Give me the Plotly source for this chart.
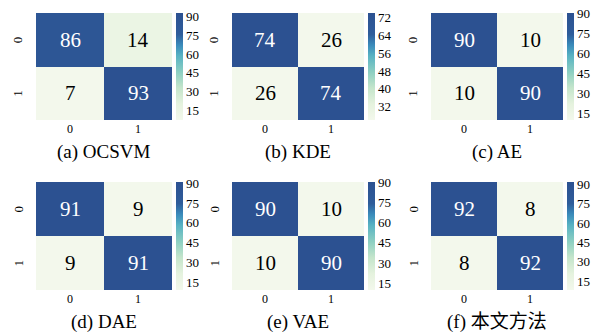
import plotly.graph_objects as go

# Confusion matrices (rows: true class, cols: predicted class)
titles = ["(a) OCSVM", "(b) KDE", "(c) AE", "(d) DAE", "(e) VAE", "(f) 本文方法"]
matrices = [
    [[86, 14], [7, 93]],
    [[74, 26], [26, 74]],
    [[90, 10], [10, 90]],
    [[91, 9], [9, 91]],
    [[90, 10], [10, 90]],
    [[92, 8], [8, 92]],
]
cbar_ticks = [
    [15, 30, 45, 60, 75, 90],
    [32, 40, 48, 56, 64, 72],
    [15, 30, 45, 60, 75, 90],
    [15, 30, 45, 60, 75, 90],
    [15, 30, 45, 60, 75, 90],
    [15, 30, 45, 60, 75, 90],
]
class_labels = ["0", "1"]

W, H = 602, 334
SERIF = "'Times New Roman', 'Liberation Serif', 'DejaVu Serif', serif"
SERIF_CJK = "'Times New Roman', 'Liberation Serif', 'Noto Sans CJK SC', serif"

# panel boxes in pixels: (left, right, top, bottom)
lefts_rights = [(36, 172), (232, 364), (431, 563)]
row_tb = [(13, 120), (182, 290)]

colorscale = [
    [0.0, "#f3f8ec"],
    [0.15, "#e5f2de"],
    [0.3, "#c4e5cb"],
    [0.45, "#8ccfc2"],
    [0.6, "#58b2c3"],
    [0.7, "#3a8bbb"],
    [0.8, "#2f5d9b"],
    [1.0, "#2c5191"],
]

fig = go.Figure()
layout = dict(
    width=W, height=H,
    margin=dict(l=0, r=0, t=0, b=0),
    paper_bgcolor="white", plot_bgcolor="white",
    showlegend=False,
    font=dict(family=SERIF, color="black"),
)
annotations = []

for i, (title, z) in enumerate(zip(titles, matrices)):
    r, c = divmod(i, 3)
    x0, x1 = lefts_rights[c]
    t0, t1 = row_tb[r]
    n = i + 1
    xa = "x" if n == 1 else f"x{n}"
    ya = "y" if n == 1 else f"y{n}"
    flat = [v for row in z for v in row]
    zmin, zmax = min(flat), max(flat)
    ca = "coloraxis" if n == 1 else f"coloraxis{n}"

    fig.add_trace(go.Heatmap(
        z=z, x=[0, 1], y=[0, 1], xaxis=xa, yaxis=ya, coloraxis=ca,
        hoverinfo="skip",
    ))

    layout[f"xaxis{'' if n == 1 else n}"] = dict(
        domain=[x0 / W, x1 / W], anchor=ya, range=[-0.5, 1.5],
        tickvals=[0, 1], ticktext=class_labels, showgrid=False, zeroline=False,
        showline=False, ticks="", ticklen=0,
        tickfont=dict(size=12, family=SERIF, color="black"),
    )
    layout[f"yaxis{'' if n == 1 else n}"] = dict(
        domain=[1 - t1 / H, 1 - t0 / H], anchor=xa, range=[1.5, -0.5],
        showticklabels=False, showgrid=False, zeroline=False,
        showline=False, ticks="",
    )
    layout[ca] = dict(
        cmin=zmin, cmax=zmax, colorscale=colorscale,
        colorbar=dict(
            x=(x1 + 4) / W, xanchor="left", xpad=0, ypad=0,
            y=1 - t1 / H, yanchor="bottom", len=(t1 - t0) / H, lenmode="fraction",
            thickness=7, thicknessmode="pixels", outlinewidth=0,
            tickvals=cbar_ticks[i], ticks="",
            tickfont=dict(size=13, family=SERIF, color="black"),
        ),
    )

    # rotated row labels to the left of each heatmap
    for yi, lab in enumerate(class_labels):
        annotations.append(dict(
            x=0, y=yi, xref=f"{xa} domain", yref=ya, text=lab, showarrow=False,
            textangle=-90, xanchor="right", yanchor="middle", xshift=-9,
            font=dict(size=13, family=SERIF, color="black"),
        ))

    mid = (zmin + zmax) / 2
    for yi in range(2):
        for xi in range(2):
            v = z[yi][xi]
            annotations.append(dict(
                x=xi, y=yi, xref=xa, yref=ya, text=str(v), showarrow=False,
                font=dict(size=21, family=SERIF, color="white" if v > mid else "black"),
            ))

    annotations.append(dict(
        x=(x0 + x1) / 2 / W, y=1 - (t1 + 32) / H, xref="paper", yref="paper",
        text=title, showarrow=False, xanchor="center", yanchor="middle",
        font=dict(size=19, family=SERIF_CJK, color="black"),
    ))

layout["annotations"] = annotations
fig.update_layout(**layout)
fig.write_html("out.html")
